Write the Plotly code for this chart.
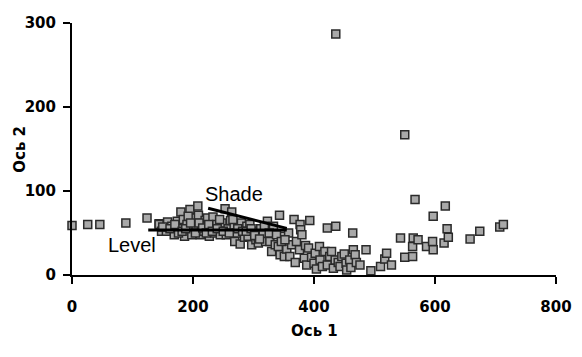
import plotly.graph_objects as go

# scatter data (Ось 1, Ось 2)
x_vals = [0, 26, 46, 89, 124, 144,
          144, 148, 156, 158, 165, 169, 174, 178, 180, 184, 186, 190, 195, 198, 199,
          202, 205, 208, 209, 212, 214, 218, 220, 224, 227, 230, 233, 236, 239, 245,
          248, 253, 255, 258, 262, 264, 268, 269, 272, 278, 280, 285, 289, 291, 294,
          297, 300, 304, 308, 308, 312, 316, 320, 323, 327, 330, 333, 336, 341, 343,
          344, 349, 351, 355, 358, 360, 363, 367, 369, 371, 376, 377, 378, 380, 384,
          386, 388, 391, 393, 396, 400, 402, 404, 409, 410, 414, 418, 422, 422, 426,
          429, 432, 435, 436, 436, 440, 443, 446, 450, 453, 454, 459, 461, 464, 465,
          468, 470, 476, 486, 494, 510, 517, 520, 528, 543, 550, 550, 563, 563, 564,
          567, 572, 586, 596, 597, 597, 615, 617, 620, 622, 658, 674, 707, 713,
          150, 162, 170, 176, 182, 188, 192, 196, 204, 210, 216, 222, 226, 232, 240,
          244, 250, 260, 266, 274, 282, 288, 296, 302, 310, 318, 326, 338, 346, 352]
y_vals = [59, 60, 60, 62, 68, 61,
          60, 52, 52, 63, 58, 48, 64, 55, 75, 66, 46, 60, 78, 48, 59,
          68, 55, 82, 71, 48, 60, 52, 65, 68, 46, 57, 69, 50, 60, 48,
          62, 79, 48, 55, 65, 75, 58, 40, 50, 37, 62, 45, 58, 46, 60,
          36, 52, 42, 46, 38, 55, 48, 40, 64, 40, 28, 58, 36, 34, 71,
          24, 46, 22, 31, 50, 22, 36, 66, 15, 40, 30, 60, 54, 48, 20,
          35, 12, 32, 65, 21, 14, 26, 7, 34, 18, 10, 28, 12, 56, 22,
          28, 8, 18, 58, 287, 15, 10, 22, 25, 14, 6, 18, 9, 50, 30,
          24, 15, 12, 30, 5, 10, 19, 26, 12, 44, 21, 167, 22, 34, 44,
          90, 42, 34, 40, 30, 70, 38, 82, 55, 45, 43, 52, 57, 60,
          57, 55, 60, 50, 52, 55, 70, 62, 50, 62, 56, 50, 60, 52, 55,
          66, 52, 50, 66, 55, 52, 52, 55, 47, 43, 58, 50, 48, 40, 42]

# trend lines
level_x = [126, 355]
level_y = [53.5, 53.5]
shade_x = [225, 355]
shade_y = [79.5, 55.5]

x_ticks = [0, 200, 400, 600, 800]
y_ticks = [0, 100, 200, 300]

fig = go.Figure()
fig.add_trace(go.Scatter(
    x=x_vals, y=y_vals, mode="markers", cliponaxis=False,
    marker=dict(symbol="square", size=8, color="#a9a9a9",
                line=dict(color="#2a2a2a", width=1.5)),
    showlegend=False, hoverinfo="skip"))
fig.add_trace(go.Scatter(x=level_x, y=level_y, mode="lines",
                         line=dict(color="black", width=3), showlegend=False))
fig.add_trace(go.Scatter(x=shade_x, y=shade_y, mode="lines",
                         line=dict(color="black", width=3), showlegend=False))

fig.add_annotation(x=268, y=96, text="Shade", showarrow=False,
                   font=dict(family="Liberation Sans", size=20, color="black"))
fig.add_annotation(x=99, y=36, text="Level", showarrow=False,
                   font=dict(family="Liberation Sans", size=20, color="black"))

tickfont = dict(family="DejaVu Sans", size=15, color="black", weight="bold")
# axis titles as annotations for exact placement
fig.add_annotation(xref="paper", yref="paper", x=0.5, y=-0.222, yanchor="middle",
                   text="Ось 1", showarrow=False, font=tickfont)
fig.add_annotation(xref="paper", yref="paper", x=-0.108, xanchor="center",
                   y=0.5, yanchor="middle", textangle=-90,
                   text="Ось 2", showarrow=False, font=tickfont)

fig.update_layout(
    width=566, height=341,
    margin=dict(l=64, r=18, t=15, b=74),
    paper_bgcolor="white", plot_bgcolor="white",
    xaxis=dict(range=[0, 800], tickvals=x_ticks, showgrid=False, zeroline=False,
               showline=True, linecolor="black", linewidth=2, automargin=False,
               ticks="outside", ticklen=7, tickwidth=2, tickcolor="black",
               tickfont=tickfont, ticklabelstandoff=10),
    yaxis=dict(range=[0, 300], tickvals=y_ticks, showgrid=False, zeroline=False,
               showline=True, linecolor="black", linewidth=2, automargin=False,
               ticks="outside", ticklen=7, tickwidth=2, tickcolor="black",
               tickfont=tickfont, ticklabelstandoff=4),
)
fig.write_html("out.html")
